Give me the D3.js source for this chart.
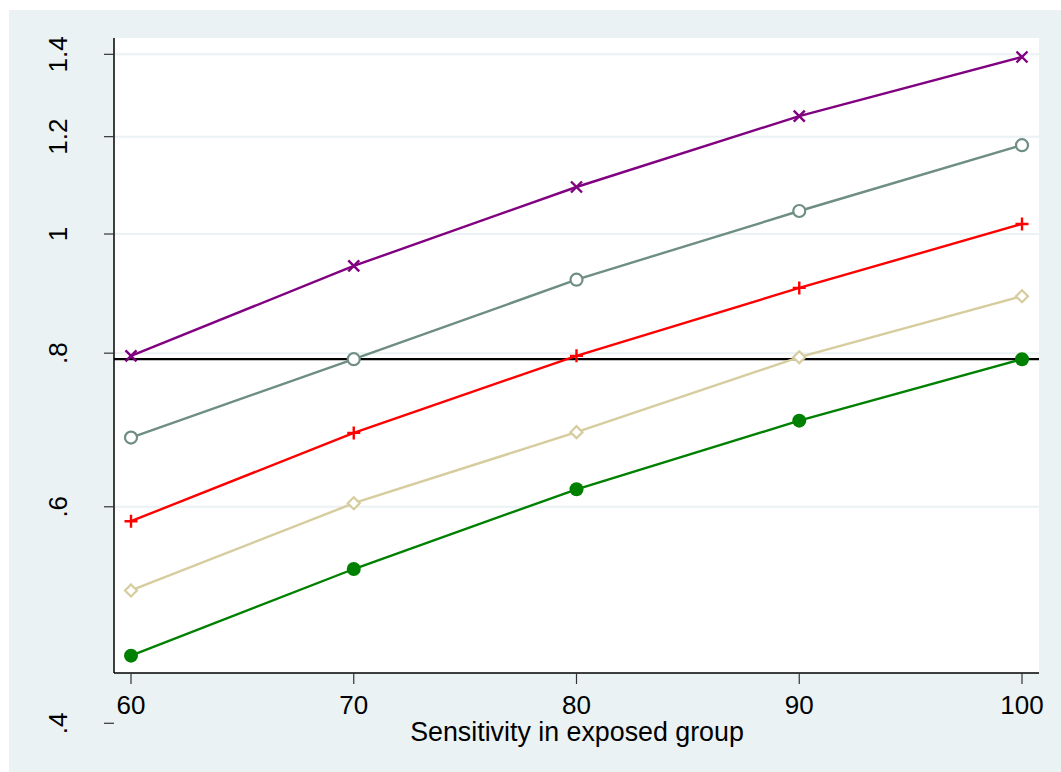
<!DOCTYPE html>
<html>
<head>
<meta charset="utf-8">
<script src="https://cdn.jsdelivr.net/npm/d3@7"></script>
<style>
  html, body { margin: 0; padding: 0; background: #ffffff; }
  svg { display: block; }
  text { font-family: "Liberation Sans", Arial, sans-serif; fill: #000; }
</style>
</head>
<body>
<svg id="chart" width="1061" height="772"></svg>
<script>
// ---- data ----
const sensitivity = [60, 70, 80, 90, 100];
const seriesPurple = [0.796, 0.942, 1.092, 1.247, 1.393];
const seriesTeal   = [0.683, 0.791, 0.918, 1.044, 1.181];
const seriesRed    = [0.584, 0.689, 0.796, 0.904, 1.019];
const seriesSand   = [0.513, 0.604, 0.690, 0.794, 0.890];
const seriesGreen  = [0.454, 0.534, 0.620, 0.705, 0.791];
const referenceValue = 0.791;
const yTicks = [0.4, 0.6, 0.8, 1, 1.2, 1.4];
const yTickLabels = [".4", ".6", ".8", "1", "1.2", "1.4"];
const xTicks = [60, 70, 80, 90, 100];
const xTitle = "Sensitivity in exposed group";

const svg = d3.select("#chart");

// layout
const bg = {x: 9, y: 10, w: 1052, h: 762};
const plot = {left: 114, right: 1039, top: 38, bottom: 673};

svg.append("rect").attr("x", bg.x).attr("y", bg.y).attr("width", bg.w).attr("height", bg.h)
  .attr("fill", "#eaf2f3");
svg.append("rect").attr("x", plot.left).attr("y", plot.top)
  .attr("width", plot.right - plot.left).attr("height", plot.bottom - plot.top)
  .attr("fill", "#ffffff");

const x = d3.scaleLinear().domain([60, 100]).range([131, 1022]);
const y = d3.scaleLog().domain([0.4395, 1.4435]).range([plot.bottom, plot.top]);

// gridlines
svg.append("g").selectAll("line").data(yTicks.filter(v => y(v) <= plot.bottom && y(v) >= plot.top))
  .join("line")
  .attr("x1", plot.left).attr("x2", plot.right)
  .attr("y1", d => y(d)).attr("y2", d => y(d))
  .attr("stroke", "#eaf2f3").attr("stroke-width", 2);

// y axis
const yAxis = svg.append("g");
yAxis.append("line").attr("x1", plot.left).attr("x2", plot.left)
  .attr("y1", plot.top).attr("y2", plot.bottom).attr("stroke", "#000").attr("stroke-width", 1.5);
yAxis.selectAll("line.tick").data(yTicks).join("line").attr("class", "tick")
  .attr("x1", 104).attr("x2", plot.left)
  .attr("y1", d => y(d)).attr("y2", d => y(d))
  .attr("stroke", "#333").attr("stroke-width", 1.2);
yAxis.selectAll("text").data(yTicks).join("text")
  .attr("transform", d => `translate(67,${y(d)}) rotate(-90)`)
  .attr("text-anchor", "middle")
  .attr("font-size", 26)
  .text((d, i) => yTickLabels[i]);

// x axis
const xAxis = svg.append("g");
xAxis.append("line").attr("x1", plot.left).attr("x2", plot.right)
  .attr("y1", plot.bottom).attr("y2", plot.bottom).attr("stroke", "#000").attr("stroke-width", 1.5);
xAxis.selectAll("line.tick").data(xTicks).join("line").attr("class", "tick")
  .attr("x1", d => x(d)).attr("x2", d => x(d))
  .attr("y1", plot.bottom).attr("y2", 684)
  .attr("stroke", "#333").attr("stroke-width", 1.2);
xAxis.selectAll("text").data(xTicks).join("text")
  .attr("x", d => x(d)).attr("y", 714)
  .attr("text-anchor", "middle")
  .attr("font-size", 26)
  .text(d => d);
svg.append("text").attr("x", 577).attr("y", 741).attr("text-anchor", "middle")
  .attr("font-size", 26.8).text(xTitle);

// reference line
svg.append("line").attr("x1", plot.left).attr("x2", plot.right)
  .attr("y1", y(referenceValue)).attr("y2", y(referenceValue))
  .attr("stroke", "#000").attr("stroke-width", 2.2);

// series
const series = [
  {values: seriesGreen,  color: "#008000", marker: "dot"},
  {values: seriesSand,   color: "#d6cc9e", marker: "diamond"},
  {values: seriesRed,    color: "#ff0000", marker: "plus"},
  {values: seriesTeal,   color: "#6e8e84", marker: "circle"},
  {values: seriesPurple, color: "#800080", marker: "x"}
];

const line = d3.line().x((d, i) => x(sensitivity[i])).y(d => y(d));

series.forEach(s => {
  const g = svg.append("g");
  g.append("path").attr("d", line(s.values)).attr("fill", "none")
    .attr("stroke", s.color).attr("stroke-width", 2.4);
  const pts = g.selectAll("g.pt").data(s.values).join("g").attr("class", "pt")
    .attr("transform", (d, i) => `translate(${x(sensitivity[i])},${y(d)})`);
  if (s.marker === "dot") {
    pts.append("circle").attr("r", 7).attr("fill", s.color);
  } else if (s.marker === "circle") {
    pts.append("circle").attr("r", 6).attr("fill", "#fff").attr("stroke", s.color).attr("stroke-width", 2.2);
  } else if (s.marker === "diamond") {
    pts.append("path").attr("d", "M0,-6L6,0L0,6L-6,0Z").attr("fill", "#fff")
      .attr("stroke", s.color).attr("stroke-width", 2.2);
  } else if (s.marker === "plus") {
    pts.append("path").attr("d", "M-6.5,0H6.5M0,-6.5V6.5").attr("stroke", s.color).attr("stroke-width", 2.4);
  } else if (s.marker === "x") {
    pts.append("path").attr("d", "M-5.5,-5.5L5.5,5.5M-5.5,5.5L5.5,-5.5").attr("stroke", s.color).attr("stroke-width", 2.4);
  }
});
</script>
</body>
</html>
